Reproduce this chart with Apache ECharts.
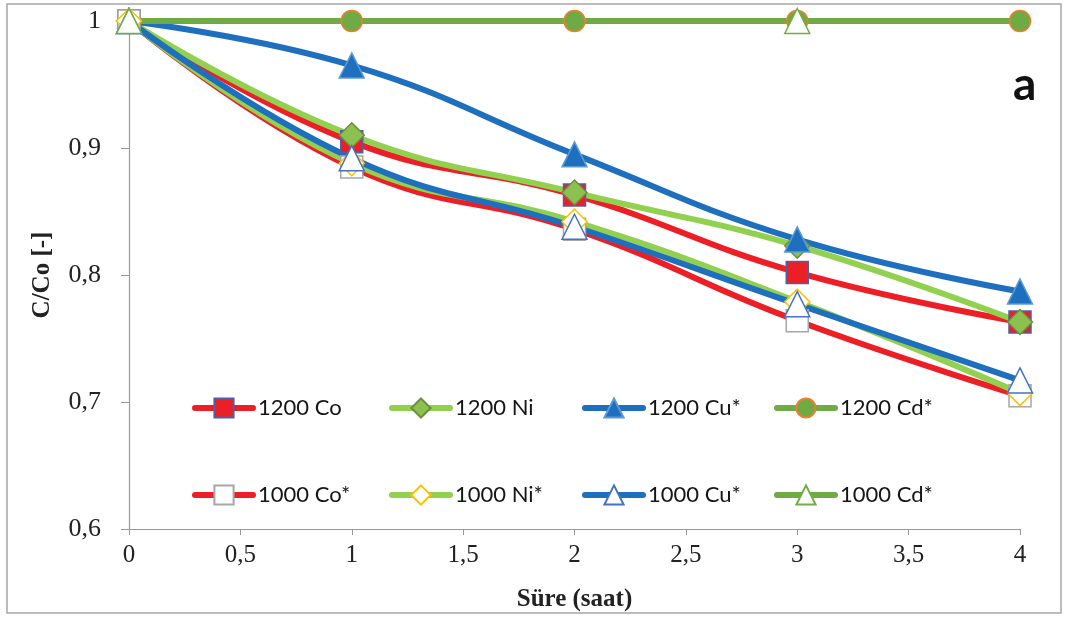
<!DOCTYPE html>
<html>
<head>
<meta charset="utf-8">
<script src="https://cdn.jsdelivr.net/npm/echarts@6/dist/echarts.min.js"></script>
<style>
  html, body { margin: 0; padding: 0; background: #fff; }
  #chart { width: 1067px; height: 619px; }
</style>
</head>
<body>
<div id="chart"></div>
<script>
// Time points (hours)
const hours = [0, 1, 2, 3, 4];

// C/Co values per series
const co1200 = [1, 0.905, 0.863, 0.802, 0.763];
const ni1200 = [1, 0.910, 0.865, 0.823, 0.763];
const cu1200 = [1, 0.965, 0.895, 0.828, 0.787];
const cd1200 = [1, 1, 1, 1, 1];
const co1000 = [1, 0.885, 0.836, 0.764, 0.705];
const ni1000 = [1, 0.888, 0.842, 0.779, 0.707];
const cu1000 = [1, 0.892, 0.838, 0.777, 0.717];
const cd1000 = [1, null, null, 1, null];

const row1Names = ['1200 Co', '1200 Ni', '1200 Cu*', '1200 Cd*'];
const row2Names = ['1000 Co*', '1000 Ni*', '1000 Cu*', '1000 Cd*'];

const RED = '#EC1F26';
const LGREEN = '#92D050';
const BLUE = '#1F6FBF';
const DGREEN = '#6FAB45';

function pairs(vals) {
  return hours.map((h, i) => [h, vals[i] == null ? '-' : vals[i]]);
}

function lineSeries(name, vals, color, symbol, size, fill, border) {
  return {
    name: name,
    type: 'line',
    data: pairs(vals),
    smooth: 0.45,
    symbol: symbol,
    symbolSize: size,
    showAllSymbol: true,
    lineStyle: { color: color, width: 6, cap: 'round' },
    itemStyle: { color: fill, borderColor: border, borderWidth: 1.5 },
    emphasis: { disabled: true },
    animation: false
  };
}

const commaFmt = v => String(Math.round(v * 10) / 10).replace('.', ',');

// One legend block per entry so the columns line up on a fixed grid
const legendCols = [188, 385, 578, 770];
const legendRows = [392, 479];
const legends = [];
[row1Names, row2Names].forEach((names, r) => {
  names.forEach((n, c) => {
    legends.push({
      left: legendCols[c] - 1,
      top: legendRows[r],
      data: [n],
      itemWidth: 58,
      itemHeight: 24,
      selectedMode: false,
      lineStyle: { width: 6, cap: 'round' },
      textStyle: { fontFamily: 'Lato', fontSize: 22, color: '#151515' }
    });
  });
});

const option = {
  backgroundColor: '#ffffff',
  animation: false,
  grid: { left: 129, right: 47, top: 21, bottom: 90 },
  xAxis: {
    type: 'value',
    min: 0, max: 4, interval: 0.5,
    name: 'Süre (saat)',
    nameLocation: 'middle',
    nameGap: 58,
    nameTextStyle: { fontFamily: 'Liberation Serif', fontWeight: 'bold', fontSize: 25, color: '#222' },
    axisLine: { lineStyle: { color: '#999', width: 1.2 } },
    axisTick: { show: true, inside: false, length: 6, lineStyle: { color: '#999' } },
    axisLabel: { formatter: commaFmt, fontFamily: 'Liberation Serif', fontSize: 25, color: '#222', margin: 14 },
    splitLine: { show: false }
  },
  yAxis: {
    type: 'value',
    min: 0.6, max: 1, interval: 0.1,
    name: 'C/Co [-]',
    nameLocation: 'middle',
    nameGap: 74,
    nameRotate: 90,
    nameTextStyle: { fontFamily: 'Liberation Serif', fontWeight: 'bold', fontSize: 25, color: '#222' },
    axisLine: { show: true, lineStyle: { color: '#999', width: 1.2 } },
    axisTick: { show: true, inside: false, length: 8, lineStyle: { color: '#999' } },
    axisLabel: { formatter: commaFmt, fontFamily: 'Liberation Serif', fontSize: 26, color: '#222', margin: 28 },
    splitLine: { show: false }
  },
  legend: legends,
  graphic: [
    {
      type: 'rect',
      shape: { x: 7, y: 4, width: 1054, height: 609 },
      style: { fill: 'none', stroke: '#A6A6A6', lineWidth: 1.5 },
      silent: true
    },
    {
      type: 'text',
      left: 1013, top: 62,
      style: { text: 'a', font: 'bold 46px Lato', fill: '#111' },
      silent: true
    }
  ],
  series: [
    lineSeries('1200 Co', co1200, RED, 'rect', 22, RED, '#4F5FA8'),
    lineSeries('1200 Ni', ni1200, LGREEN, 'diamond', 25, '#8CC152', '#6A8F3A'),
    lineSeries('1200 Cu*', cu1200, BLUE, 'triangle', 25, BLUE, '#5B9BD5'),
    lineSeries('1200 Cd*', cd1200, DGREEN, 'circle', 21, DGREEN, '#ED7D31'),
    lineSeries('1000 Co*', co1000, RED, 'rect', 22, '#ffffff', '#A6A6A6'),
    lineSeries('1000 Ni*', ni1000, LGREEN, 'diamond', 25, '#ffffff', '#FFC000'),
    lineSeries('1000 Cu*', cu1000, BLUE, 'triangle', 25, '#ffffff', '#4472C4'),
    lineSeries('1000 Cd*', cd1000, DGREEN, 'triangle', 25, '#ffffff', '#70AD47')
  ]
};

const chart = echarts.init(document.getElementById('chart'), null, { renderer: 'canvas' });
chart.setOption(option);
</script>
</body>
</html>
